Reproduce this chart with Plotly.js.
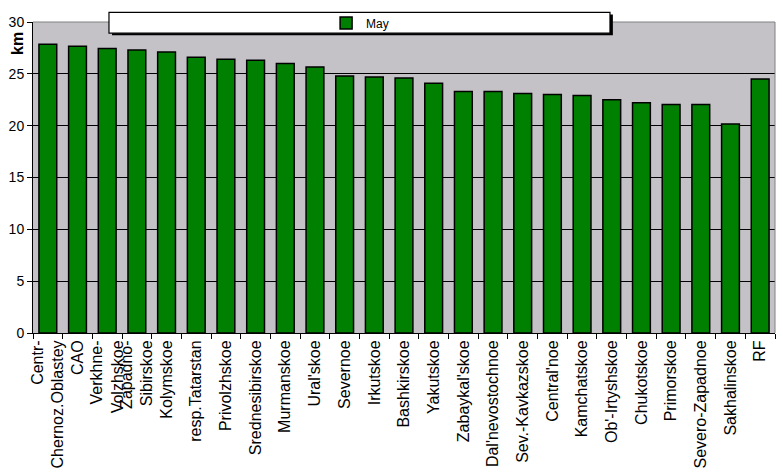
<!DOCTYPE html>
<html>
<head>
<meta charset="utf-8">
<script src="https://cdn.plot.ly/plotly-3.0.1.min.js"></script>
<style>html,body{margin:0;padding:0;background:#fff;}#chart{width:783px;height:476px;}</style>
</head>
<body>
<div id="chart"></div>
<script>
var categories = ["Centr-<br>Chernoz.Oblastey", "CAO", "Verkhne-<br>Volzhskoe", "Zapadno-<br>Sibirskoe", "Kolymskoe",
  "resp.Tatarstan", "Privolzhskoe", "Srednesibirskoe", "Murmanskoe", "Ural'skoe", "Severnoe", "Irkutskoe",
  "Bashkirskoe", "Yakutskoe", "Zabaykal'skoe", "Dal'nevostochnoe", "Sev.-Kavkazskoe", "Central'noe",
  "Kamchatskoe", "Ob'-Irtyshskoe", "Chukotskoe", "Primorskoe", "Severo-Zapadnoe", "Sakhalinskoe", "RF"];
var mayValues = [27.85, 27.65, 27.45, 27.3, 27.1, 26.6, 26.4, 26.3, 26.0, 25.65, 24.8, 24.7, 24.6, 24.1,
  23.3, 23.3, 23.1, 23.0, 22.9, 22.5, 22.2, 22.05, 22.05, 20.15, 24.5];
var yTicks = [0, 5, 10, 15, 20, 25, 30];
var seriesName = "May";

var font = "Liberation Sans, Arial, sans-serif";
var trace = {
  type: "bar", x: categories, y: mayValues, name: seriesName,
  marker: {color: "#008000", line: {color: "#000000", width: 1.5}},
  showlegend: true, hoverinfo: "x+y"
};
var layout = {
  width: 783, height: 476,
  margin: {l: 33, r: 8, t: 18, b: 143, pad: 0},
  paper_bgcolor: "#ffffff", plot_bgcolor: "#c4c2c7",
  font: {family: font, size: 13, color: "#000000"},
  bargap: 0.4,
  showlegend: true,
  legend: {orientation: "h", x: 0.395, xanchor: "left", y: 0.997, yanchor: "middle",
    bgcolor: "rgba(0,0,0,0)", borderwidth: 0, itemwidth: 30, font: {family: font, size: 12, color: "#000000"}},
  xaxis: {type: "category", tickangle: -90, tickson: "boundaries", ticks: "outside", ticklen: 5,
    tickcolor: "#000", showline: true, linecolor: "#000", linewidth: 1, showgrid: false,
    tickfont: {family: font, size: 16, color: "#000"}, automargin: false},
  yaxis: {range: [0, 30], tickvals: yTicks, ticktext: yTicks.map(String), ticks: "outside", ticklen: 5,
    tickcolor: "#000", showline: true, linecolor: "#000", linewidth: 1, showgrid: true,
    gridcolor: "#000", gridwidth: 1, zeroline: false,
    tickfont: {family: font, size: 14, color: "#000"}, automargin: false},
  shapes: [
    {type: "line", xref: "paper", yref: "paper", x0: 0, x1: 1, y0: 1, y1: 1, line: {color: "#808080", width: 1}, layer: "above"},
    {type: "line", xref: "paper", yref: "paper", x0: 1, x1: 1, y0: 0, y1: 1, line: {color: "#808080", width: 1}, layer: "above"},
    {type: "rect", xref: "paper", yref: "paper", x0: 0.1065, x1: 0.7815, y0: 0.957, y1: 1.024, line: {width: 0}, fillcolor: "#000", layer: "above"},
    {type: "rect", xref: "paper", yref: "paper", x0: 0.1024, x1: 0.7776, y0: 0.964, y1: 1.031, line: {color: "#000", width: 1.2}, fillcolor: "#ffffff", layer: "above"}
  ],
  annotations: [
    {text: "<b>km</b>", xref: "paper", yref: "paper", x: -0.02, y: 0.93, xanchor: "center", yanchor: "middle",
      textangle: -90, showarrow: false, font: {family: font, size: 16, color: "#000"}}
  ]
};
Plotly.newPlot("chart", [trace], layout, {staticPlot: true, displayModeBar: false});
</script>
</body>
</html>
